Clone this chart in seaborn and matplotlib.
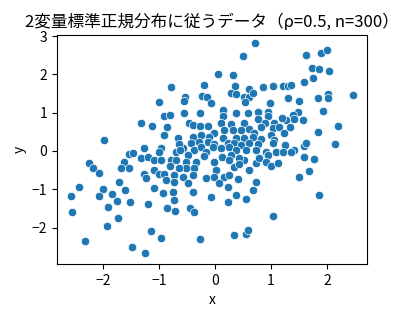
import matplotlib
matplotlib.use("Agg")
import matplotlib.pyplot as plt
import seaborn as sns
import pandas as pd

# values (x, y of each point)
x_center = [-0.20, 0.36, 0.61, 0.86, 1.04, -0.54, -0.23, -0.14, 0.29, 0.38,
            0.52, 0.61, 0.68, -0.55, -0.07, 0.54, 0.98, -0.55, -0.27, 0.14,
            0.38, 0.59, 0.77, 0.95, 0.14, 0.95, -0.46, -0.39, -0.27, -0.13,
            0.11, 0.29, 0.52, 0.77, 0.89, 1.05, 0.32, 0.16, -0.02, 0.46,
            0.61, 0.70, 0.82, 1.04, 1.14, -0.39, -0.25, -0.11, 0.14, 0.38,
            0.52, 0.68, 0.82, 1.00, 1.05, -0.43, -0.29, -0.13, -0.02, 0.23,
            0.34, 0.46, 0.61, 0.77, 1.04, -0.57, -0.38, -0.25, -0.16, -0.04,
            0.11, 0.25, 0.38, 0.55, 0.73, 0.91, 1.09, -0.48, -0.20, 0.13,
            0.29, 0.52, 0.95, -0.52, -0.34, -0.02, 0.25, 0.43, 0.73, 0.79,
            0.91, 1.00, 1.13, -0.38, -0.52, 0.02, 0.34, 0.43, 0.61, -0.39,
            -0.16, -0.02, 0.16, 0.25, 0.41, 0.73, -0.57, -0.48, 0.07, 0.23,
            -0.39, -0.07, 0.38, 0.55, 0.68]
y_center = [1.72, 1.70, 1.62, 1.67, 1.70, 1.41, 1.44, 1.41, 1.51, 1.49,
            1.41, 1.41, 1.51, 1.31, 1.25, 1.28, 1.25, 0.99, 0.99, 1.07,
            0.99, 0.99, 1.02, 1.02, 0.91, 0.91, 0.73, 0.68, 0.65, 0.65,
            0.73, 0.70, 0.73, 0.84, 0.73, 0.73, 0.55, 0.55, 0.47, 0.55,
            0.57, 0.47, 0.63, 0.60, 0.63, 0.37, 0.42, 0.37, 0.34, 0.34,
            0.34, 0.37, 0.31, 0.42, 0.29, 0.21, 0.23, 0.23, 0.18, 0.21,
            0.21, 0.16, 0.21, 0.18, 0.21, 0.08, 0.03, 0.10, -0.03, 0.10,
            0.08, 0.10, 0.03, 0.03, 0.03, -0.03, -0.03, -0.10, -0.13, -0.16,
            -0.10, -0.23, -0.10, -0.29, -0.29, -0.29, -0.23, -0.18, -0.31, -0.18,
            -0.29, -0.39, -0.31, -0.44, -0.44, -0.50, -0.42, -0.34, -0.50, -0.63,
            -0.70, -0.68, -0.68, -0.63, -0.73, -0.81, -0.68, -0.84, -0.84, -0.94,
            -1.07, -1.20, -1.15, -1.25, -1.02]

x_upper = [0.71, 0.50, 0.05, 0.32,
           -0.79, -1.00, -0.91, -0.80, -1.32, -1.13, -0.86, -0.91, -0.66, -1.27,
           -0.96, -0.64,
           1.63, 1.89, 2.00, 1.73, 1.86, 2.04, 1.75, 1.59, 1.21, 1.30,
           1.36, 1.30, 1.50, 1.84, 2.02, 2.02, 2.46, 1.93, 1.48, 1.39,
           1.41, 1.57, 1.27, 1.20, 1.34, 2.20, 1.84, 1.23,
           1.25, 1.41, 1.59, 1.63, 1.21, 1.36, 2.14]
y_upper = [2.82, 2.48, 2.01, 1.98,
           1.67, 1.28, 0.91, 0.94, 0.73, 0.65, 0.63, 0.42, 0.34, 0.08,
           0.08, 0.18,
           2.51, 2.56, 2.64, 2.17, 2.14, 2.09, 1.91, 1.80, 1.70, 1.70,
           1.72, 1.38, 1.31, 1.38, 1.49, 1.38, 1.46, 1.04, 1.02, 0.94,
           0.84, 0.81, 0.81, 0.86, 0.63, 0.65, 0.50, 0.47,
           0.16, 0.03, 0.13, 0.21, -0.03, -0.03, 0.18]

x_lower = [1.59, 1.77, 1.68, 1.50, 1.86,
           -1.00, -1.32, -1.20, -1.09, -0.96, -0.79, -0.70, -0.63, -0.70, -0.80,
           -0.64, -1.09, -1.27, -1.00, -0.91, -0.73, -1.23, -0.88, -0.73, -1.09,
           -0.93, -0.75, -0.73, -1.20, -0.86, -0.71, -1.14, -0.96, -1.25,
           -0.45, -0.38, -0.27, 0.23, 1.04, 0.34, 0.55, 0.59,
           -1.54, -1.46, -1.63, -2.25, -2.18, -1.68, -1.54, -2.07, -1.71, -2.43,
           -2.00, -1.61, -2.57, -2.07, -1.84, -1.75, -1.52, -1.91, -2.55, -1.73,
           -1.93, -2.32, -1.48, -1.98]
y_lower = [-0.16, -0.21, -0.52, -0.68, -1.15,
           -0.03, -0.18, -0.16, -0.23, -0.23, -0.23, -0.03, 0.03, -0.23, -0.39,
           -0.44, -0.50, -0.60, -0.60, -0.60, -0.63, -0.70, -0.76, -0.81, -0.97,
           -1.10, -1.07, -1.28, -1.38, -1.49, -1.57, -2.09, -2.27, -2.66,
           -1.49, -1.59, -2.30, -1.33, -1.70, -2.19, -2.17, -2.06,
           -0.08, -0.05, -0.29, -0.31, -0.44, -0.44, -0.44, -0.57, -0.81, -0.94,
           -0.99, -1.02, -1.17, -1.17, -1.12, -1.31, -1.33, -1.46, -1.59, -1.75,
           -1.96, -2.35, -2.51, 0.29]

df = pd.DataFrame({
    'x': x_center + x_upper + x_lower,
    'y': y_center + y_upper + y_lower,
})

plt.rcParams['font.family'] = ['Noto Sans CJK JP', 'DejaVu Sans']
plt.rcParams['axes.unicode_minus'] = True

fig = plt.figure(figsize=(4.17, 3.15), dpi=100)
ax = fig.add_axes([0.137, 0.162, 0.743, 0.727])
sns.scatterplot(data=df, x='x', y='y', ax=ax)
ax.set_ylim(-2.95, 3.03)
ax.set_title('2変量標準正規分布に従うデータ（ρ=0.5, n=300）', fontsize=12)

fig.savefig('out.png', dpi=100)
